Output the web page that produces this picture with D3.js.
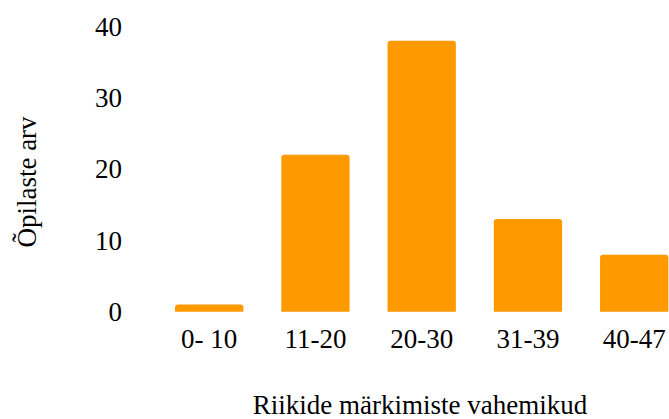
<!DOCTYPE html>
<html>
<head>
<meta charset="utf-8">
<script src="https://cdn.jsdelivr.net/npm/d3@7"></script>
<style>
  body { margin: 0; background: #fff; }
  svg { display: block; font-family: "Liberation Serif", "Times New Roman", serif; }
</style>
</head>
<body>
<svg id="chart"></svg>
<script>
// chart data
var categories = ["0- 10", "11-20", "20-30", "31-39", "40-47"];
var counts = [1, 22, 38, 13, 8];
var yTicks = [0, 10, 20, 30, 40];
var xTitle = "Riikide märkimiste vahemikud";
var yTitle = "Õpilaste arv";

var width = 669;
var height = 419;
var barColor = "#ff9900";
var fontSize = 27;

var svg = d3.select("#chart")
    .attr("width", width)
    .attr("height", height);

// scales
var xScale = d3.scaleBand()
    .domain(categories)
    .range([155.9, 687.5])
    .paddingInner(0.357)
    .paddingOuter(0.18);

var yScale = d3.scaleLinear()
    .domain([0, 40])
    .range([311.7, 26.4]);

// y axis, labels only
var yAxis = d3.axisLeft(yScale)
    .tickValues(yTicks)
    .tickSize(0)
    .tickPadding(0);

svg.append("g")
    .attr("transform", "translate(122,0)")
    .call(yAxis)
    .call(function (g) { g.select(".domain").remove(); })
    .selectAll("text")
    .attr("font-family", "Liberation Serif, serif")
    .attr("font-size", fontSize)
    .attr("fill", "#000");

// x axis, labels only
var xAxis = d3.axisBottom(xScale)
    .tickSize(0)
    .tickPadding(0);

svg.append("g")
    .attr("transform", "translate(0,329)")
    .call(xAxis)
    .call(function (g) { g.select(".domain").remove(); })
    .selectAll("text")
    .attr("font-family", "Liberation Serif, serif")
    .attr("font-size", fontSize)
    .attr("fill", "#000")
    .attr("dy", "0.71em");

// bars with rounded top corners
function barPath(d, i) {
    var x0 = xScale(categories[i]);
    var w = xScale.bandwidth();
    var y0 = yScale(0);
    var y1 = yScale(d);
    var r = Math.min(3, (y0 - y1) / 2);
    return "M" + x0 + "," + y0 +
        "V" + (y1 + r) +
        "Q" + x0 + "," + y1 + " " + (x0 + r) + "," + y1 +
        "H" + (x0 + w - r) +
        "Q" + (x0 + w) + "," + y1 + " " + (x0 + w) + "," + (y1 + r) +
        "V" + y0 + "Z";
}

svg.selectAll(".bar")
    .data(counts)
    .enter()
    .append("path")
    .attr("class", "bar")
    .attr("d", barPath)
    .attr("fill", barColor);

// axis titles
svg.append("text")
    .attr("x", 420)
    .attr("y", 414)
    .attr("text-anchor", "middle")
    .attr("font-size", fontSize)
    .text(xTitle);

svg.append("text")
    .attr("transform", "translate(36,182) rotate(-90)")
    .attr("text-anchor", "middle")
    .attr("font-size", fontSize)
    .text(yTitle);
</script>
</body>
</html>
